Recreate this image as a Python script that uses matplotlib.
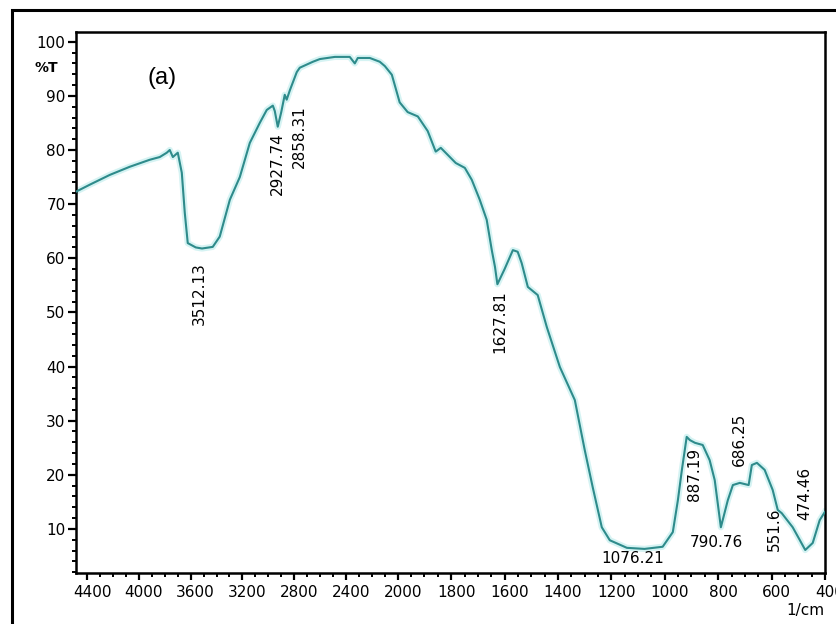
import numpy as np
import matplotlib
matplotlib.use("Agg")
import matplotlib.pyplot as plt
from matplotlib.patches import Rectangle
from matplotlib.ticker import FixedLocator, NullFormatter
from matplotlib.transforms import ScaledTranslation

# FTIR transmittance spectrum, sample (a)
wavenumber = [4485, 4378, 4224, 4070, 3915, 3838, 3784, 3761, 3737, 3699, 3668,
              3645, 3622, 3560, 3512, 3429, 3375, 3297, 3220, 3143, 3066, 3012,
              2965, 2950, 2927, 2900, 2873, 2858, 2834, 2780, 2757, 2656, 2602,
              2486, 2371, 2332, 2309, 2216, 2139, 2100, 2046, 1993, 1963, 1925,
              1888, 1858, 1839, 1813, 1783, 1749, 1723, 1693, 1667, 1648, 1636,
              1627, 1600, 1569, 1551, 1536, 1513, 1476, 1442, 1393, 1337, 1300,
              1270, 1236, 1206, 1142, 1076, 1008, 970, 951, 936, 918, 906, 887,
              858, 832, 813, 790, 764, 745, 719, 686, 674, 655, 626, 596, 577,
              562, 551, 521, 494, 474, 446, 420, 401]
transmittance = [72.3, 73.6, 75.4, 76.9, 78.2, 78.7, 79.5, 80.0, 78.7, 79.5, 75.8,
                 68.4, 62.8, 62.0, 61.8, 62.1, 64.0, 70.8, 75.0, 81.3, 85.0, 87.4,
                 88.2, 87.2, 84.3, 87.0, 90.2, 89.3, 91.0, 94.4, 95.2, 96.3, 96.8,
                 97.2, 97.2, 96.0, 97.0, 97.0, 96.3, 95.5, 93.9, 88.8, 87.0, 86.2,
                 83.5, 79.7, 80.4, 79.1, 77.6, 76.7, 74.5, 70.8, 67.1, 61.5, 58.4,
                 55.2, 58.0, 61.5, 61.2, 59.1, 54.7, 53.2, 47.3, 39.9, 33.8, 24.6,
                 17.7, 10.3, 7.9, 6.5, 6.3, 6.7, 9.4, 15.3, 20.9, 27.0, 26.4, 25.9,
                 25.5, 22.7, 19.0, 10.3, 15.3, 18.1, 18.5, 18.1, 21.8, 22.2, 20.9,
                 17.2, 13.5, 12.9, 12.2, 10.3, 7.9, 6.1, 7.4, 11.6, 13.1]

# Peak labels: text, x, y, rotated
peak_text = ["3512.13", "2927.74", "2858.31", "1627.81", "1076.21",
             "887.19", "790.76", "686.25", "551.6", "474.46"]
peak_x = [3529, 2927, 2757, 1618, 1120, 888, 805, 719, 588, 476]
peak_y = [59.3, 83.3, 88.3, 54.1, 4.6, 24.9, 7.4, 31.4, 14.0, 21.4]
peak_rot = [True, True, True, True, False, True, False, True, True, True]

x_major = [4400, 4000, 3600, 3200, 2800, 2400, 2000, 1800, 1600, 1400,
           1200, 1000, 800, 600, 400]
y_major = [10, 20, 30, 40, 50, 60, 70, 80, 90, 100]

# Axis is compressed above 2000 1/cm
K = 0.485


def fwd(w):
    w = np.asarray(w, dtype=float)
    return np.where(w <= 2000, w, 2000 + (w - 2000) * K)


def inv(g):
    g = np.asarray(g, dtype=float)
    return np.where(g <= 2000, g, 2000 + (g - 2000) / K)


W, H = 837, 624
fig = plt.figure(figsize=(W / 100, H / 100), dpi=100)
fig.patch.set_facecolor("white")
ax = fig.add_axes([76 / W, 1 - 573 / H, (825 - 76) / W, (573 - 32) / H])
ax.set_xscale("function", functions=(fwd, inv))
ax.set_xlim(4485, 400)
ax.set_ylim(1.85, 101.8)

line_col = "#2e8b8b"
ax.plot(wavenumber, transmittance, color="#c4eeee", lw=4.5, alpha=0.7,
        solid_joinstyle="round", zorder=2)
ax.plot(wavenumber, transmittance, color=line_col, lw=1.5,
        solid_joinstyle="round", zorder=3)

for s in ax.spines.values():
    s.set_linewidth(1.8)
    s.set_color("black")

ax.xaxis.set_major_locator(FixedLocator(x_major))
x_minor = [v for v in range(2100, 4500, 100) if v not in x_major] + \
          [v for v in range(450, 2000, 50) if v not in x_major]
ax.xaxis.set_minor_locator(FixedLocator(x_minor))
ax.xaxis.set_minor_formatter(NullFormatter())
ax.set_xticklabels([str(v) for v in x_major])

ax.yaxis.set_major_locator(FixedLocator(y_major))
ax.yaxis.set_minor_locator(FixedLocator([v for v in range(2, 102, 2)
                                         if v not in y_major]))
ax.yaxis.set_minor_formatter(NullFormatter())

ax.tick_params(axis="both", which="major", direction="out", width=1.6,
               colors="black", labelsize=11)
ax.tick_params(axis="y", which="major", length=6, pad=1.5)
ax.tick_params(axis="x", which="major", length=5, pad=3.5)
ax.tick_params(axis="y", which="minor", direction="out", length=3, width=1.4)
ax.tick_params(axis="x", which="minor", direction="out", length=3, width=1.4)

shift = ScaledTranslation(5 / 100, 0, fig.dpi_scale_trans)
for lab in ax.get_xticklabels():
    lab.set_transform(lab.get_transform() + shift)

for t, x, y, r in zip(peak_text, peak_x, peak_y, peak_rot):
    if r:
        ax.text(x, y, t, rotation=90, ha="center", va="top",
                fontsize=11, color="black", zorder=4)
    else:
        ax.text(x, y, t, ha="center", va="center",
                fontsize=11, color="black", zorder=4)

ax.text(3822, 93.3, "(a)", fontsize=17, family="Liberation Sans",
        ha="center", va="center")

fig.text(46 / W, 1 - 68 / H, "%T", fontsize=10, fontweight="bold",
         ha="center", va="center")
fig.text(805 / W, 1 - 610 / H, "1/cm", fontsize=11, ha="center",
         va="center")

# Outer frame around the figure
fig.patches.append(Rectangle((12 / W, -0.05), 1.2, 1 - 10 / H + 0.05,
                             transform=fig.transFigure, fill=False,
                             lw=2.2, edgecolor="black"))

fig.savefig("out.png", dpi=100)
